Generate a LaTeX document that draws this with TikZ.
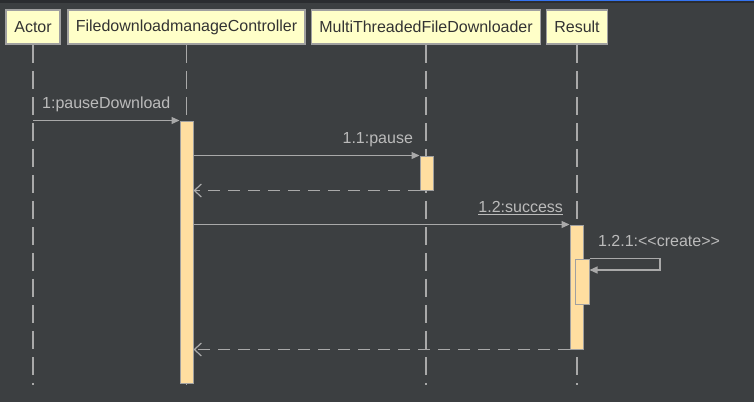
\documentclass[tikz,border=0pt]{standalone}
\usepackage{fontspec}
\newfontfamily\umlfont{Liberation Sans}
\usetikzlibrary{arrows.meta}

\definecolor{bgdark}{RGB}{60,63,65}
\definecolor{bartop}{RGB}{43,45,48}
\definecolor{barblue}{RGB}{53,116,240}
\definecolor{boxfill}{RGB}{255,255,200}
\definecolor{boxline}{RGB}{160,160,160}
\definecolor{actfill}{RGB}{255,222,160}
\definecolor{wire}{RGB}{169,169,169}
\definecolor{labeltext}{RGB}{187,187,187}
\definecolor{nametext}{RGB}{51,51,51}

\tikzset{
  objbox/.style={draw=boxline, line width=1.5pt, fill=boxfill, text=nametext, minimum height=34pt, inner xsep=8pt, font=\umlfont\fontsize{16}{19}\selectfont},
  lifeline/.style={draw=wire, line width=1.3pt, dash pattern=on 18pt off 8pt},
  actbar/.style={draw=boxline, line width=1pt, fill=actfill, minimum width=13pt, inner sep=0pt},
  msg/.style={draw=wire, line width=1.2pt, -{Triangle[length=8pt,width=7pt]}},
  reply/.style={draw=wire, line width=1.2pt, dash pattern=on 12pt off 8pt, -{Straight Barb[length=7pt,width=13pt]}},
  msglabel/.style={text=labeltext, font=\umlfont\fontsize{16}{19}\selectfont, inner xsep=6pt, inner ysep=11.5pt, text depth=0pt}
}

\begin{document}
\begin{tikzpicture}[x=1pt,y=1pt,yscale=-1]
%Shape: Background
\fill[bgdark] (0,0) rectangle (754,402);
\useasboundingbox (0,0) rectangle (754,402);
\fill[bartop] (0,0) rectangle (754,3);
\fill[barblue] (510,0) rectangle (754,1.2);
\coordinate (bottom) at (0,385);
\coordinate (selfbot) at (660,270);

%Shape: Object Boxes
\node[objbox, minimum width=54pt] (actor) at (33,27) {Actor};
\node[objbox, minimum width=237pt] (fdc) at (186.5,27) {FiledownloadmanageController};
\node[objbox, minimum width=228pt] (mtfd) at (426,27) {MultiThreadedFileDownloader};
\node[objbox, minimum width=58pt] (result) at (577,27) {Result};

%Straight Lines: lifelines
\draw[lifeline] (actor.south) -- (actor.south |- bottom);
\draw[lifeline] (fdc.south) -- (fdc.south |- bottom);
\draw[lifeline] (mtfd.south) -- (mtfd.south |- bottom);
\draw[lifeline] (result.south) -- (result.south |- bottom);

%Shape: Activations
\node[actbar, minimum height=262pt] (fdcact) at (186.5,252) {};
\node[actbar, minimum height=34pt] (mtfdact) at (426.5,173) {};
\node[actbar, minimum height=124pt] (resact) at (576.5,287) {};
\node[actbar, minimum width=14pt, minimum height=45pt] (createact) at (582,281.5) {};

%Straight Lines: messages
\draw[msg] (actor.south |- fdcact.north) -- node[msglabel, anchor=south] {1:pauseDownload} (fdcact.north west);
\draw[msg] (fdcact.east |- mtfdact.north) -- (mtfdact.north west) node[msglabel, anchor=south east] {1.1:pause};
\draw[reply] (mtfdact.south west) -- (fdcact.east |- mtfdact.south);
\draw[msg] (fdcact.east |- resact.north) -- (resact.north west) node[msglabel, anchor=south east] {\underline{1.2:success}};
\draw[msg] (createact.north east) node[msglabel, anchor=south west, inner xsep=8pt] {1.2.1:<<create>>} -| (selfbot) -- (createact.east |- selfbot);
\draw[reply] (resact.south west) -- (fdcact.east |- resact.south);
\end{tikzpicture}
\end{document}
